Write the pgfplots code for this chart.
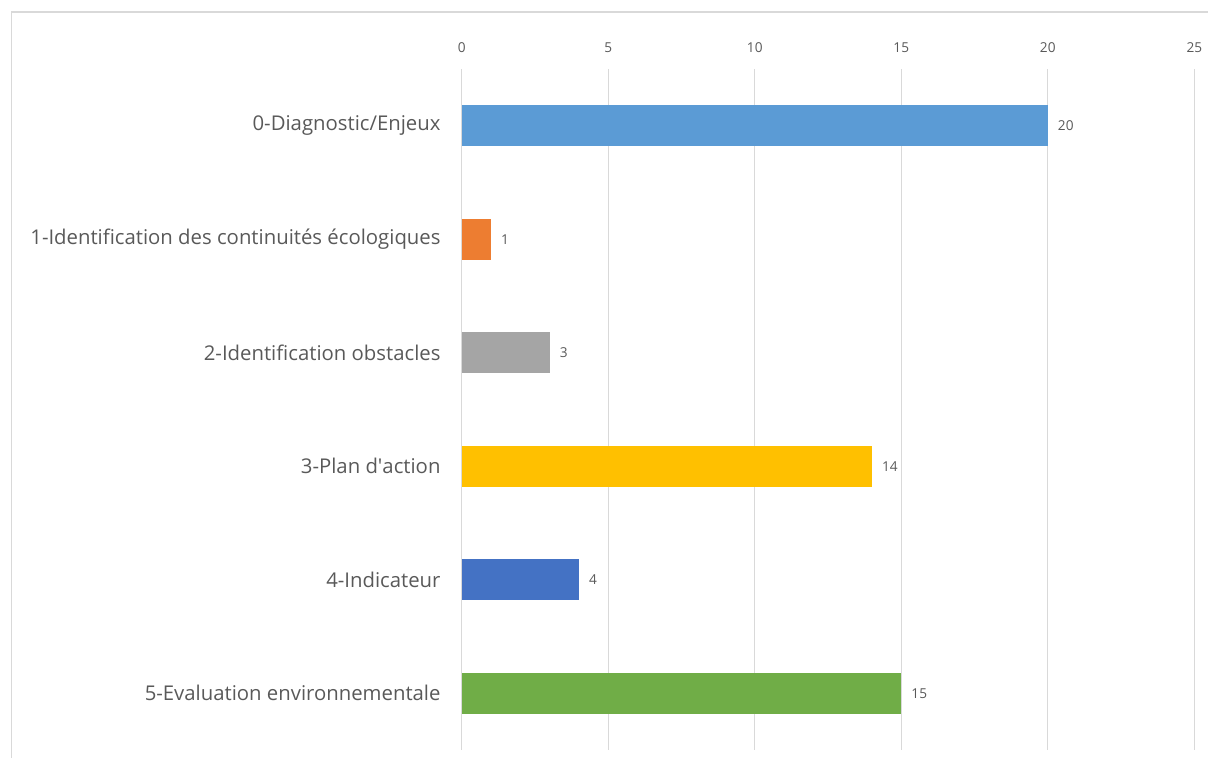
\documentclass[border=0pt]{standalone}
\usepackage{fontspec}
\setmainfont[Ligatures={NoCommon}]{Open Sans}
\usepackage{pgfplots}
\pgfplotsset{compat=1.18}

\definecolor{txtgray}{HTML}{595959}
\definecolor{gridgray}{HTML}{D9D9D9}
\definecolor{cA}{HTML}{5B9BD5}
\definecolor{cB}{HTML}{ED7D31}
\definecolor{cC}{HTML}{A5A5A5}
\definecolor{cD}{HTML}{FFC000}
\definecolor{cE}{HTML}{4472C4}
\definecolor{cF}{HTML}{70AD47}

\begin{document}
\begin{tikzpicture}[x=1bp,y=1bp]
\useasboundingbox (0,0) rectangle (1208,758);
% chart frame (cropped at right and bottom)
\draw[gridgray, line width=1.5bp] (11.5,0) -- (11.5,746) -- (1208,746);
\begin{axis}[
    at={(461.7bp,8bp)}, anchor=south west,
    scale only axis, width=732.6bp, height=681bp,
    xmin=0, xmax=25, ymin=-0.5, ymax=5.5,
    xbar, bar width=41bp,
    axis line style={draw=none},
    major tick length=0pt,
    xtick={0,5,...,25}, xticklabel pos=upper,
    xmajorgrids, grid style={gridgray, line width=1.2bp},
    ytick={0,...,5},
    yticklabels={5-Evaluation environnementale, 4-Indicateur, 3-Plan d\textquotesingle action,
                 2-Identification obstacles, 1-Identification des continuités écologiques,
                 0-Diagnostic/Enjeux},
    /pgf/number format/assume math mode=true,
    xticklabel style={anchor=south, inner sep=0pt, yshift=16bp,
                      font=\fontsize{13.7}{16}\selectfont, text=txtgray},
    yticklabel style={anchor=east, inner sep=0pt, xshift=-21bp,
                      font=\fontsize{20.4}{24}\selectfont, text=txtgray},
    point meta=x,
    nodes near coords,
    nodes near coords style={anchor=west, inner sep=0pt, xshift=10bp,
                             font=\fontsize{13.7}{16}\selectfont, text=txtgray},
]
\addplot[bar shift=0pt, fill=cA, draw=none] coordinates {(20,5)};
\addplot[bar shift=0pt, fill=cB, draw=none] coordinates {(1,4)};
\addplot[bar shift=0pt, fill=cC, draw=none] coordinates {(3,3)};
\addplot[bar shift=0pt, fill=cD, draw=none] coordinates {(14,2)};
\addplot[bar shift=0pt, fill=cE, draw=none] coordinates {(4,1)};
\addplot[bar shift=0pt, fill=cF, draw=none] coordinates {(15,0)};
\end{axis}
\end{tikzpicture}
\end{document}
